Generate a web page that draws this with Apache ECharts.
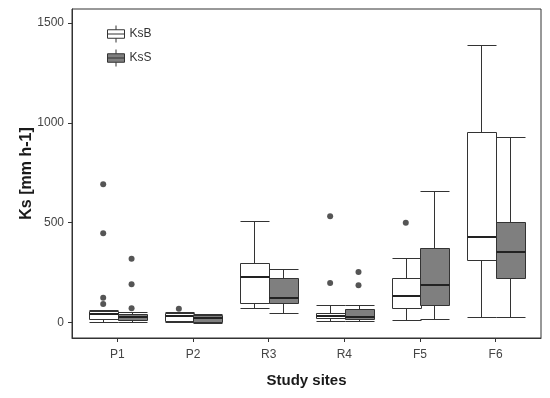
<!DOCTYPE html>
<html>
<head>
<meta charset="utf-8">
<script src="https://cdn.jsdelivr.net/npm/echarts@6/dist/echarts.min.js"></script>
<style>html,body{margin:0;padding:0;background:#fff;}#c{width:550px;height:398px;}</style>
</head>
<body>
<div id="c"></div>
<script>
// ---- data ----
const categories = ['P1', 'P2', 'R3', 'R4', 'F5', 'F6'];
// [low whisker, Q1, median, Q3, high whisker]
const ksB = [
  [3, 17, 42, 58, 62],
  [3, 10, 33, 47, 55],
  [73, 97, 227, 297, 507],
  [7, 25, 33, 47, 90],
  [13, 75, 135, 223, 325],
  [30, 313, 430, 955, 1388]
];
const ksS = [
  [3, 13, 28, 42, 55],
  [0, 5, 22, 38, 45],
  [47, 97, 125, 223, 267],
  [7, 17, 27, 67, 90],
  [20, 90, 190, 373, 658],
  [30, 222, 355, 505, 928]
];
// [category index, value]
const outliersB = [[0, 693], [0, 447], [0, 125], [0, 93], [1, 70], [3, 532], [3, 198], [4, 500]];
const outliersS = [[0, 320], [0, 192], [0, 72], [3, 253], [3, 187]];
const yTicks = [0, 500, 1000, 1500];

// ---- layout / style ----
const BOX_W = 0.375;
const LINE = '#333333';
const FONT = "'Liberation Sans', Arial, sans-serif";

function makeRender(offset, fill) {
  return function (params, api) {
    const xi = api.value(0);
    const low = api.value(1), q1 = api.value(2), med = api.value(3), q3 = api.value(4), high = api.value(5);
    const w = api.size([BOX_W, 0])[0];
    const cx = Math.round(api.coord([xi + offset, 0])[0]) + 0.5;
    const x0 = Math.round(cx - w / 2) + 0.5, x1 = Math.round(cx + w / 2) + 0.5;
    const Y = v => Math.round(api.coord([0, v])[1]) + 0.5;
    const yl = Y(low), y1 = Y(q1), ym = Y(med), y3 = Y(q3), yh = Y(high);
    const st = { stroke: LINE, lineWidth: 1, fill: null };
    return {
      type: 'group',
      children: [
        { type: 'line', shape: { x1: cx, y1: yh, x2: cx, y2: y3 }, style: st },
        { type: 'line', shape: { x1: cx, y1: y1, x2: cx, y2: yl }, style: st },
        { type: 'line', shape: { x1: x0, y1: yh, x2: x1, y2: yh }, style: st },
        { type: 'line', shape: { x1: x0, y1: yl, x2: x1, y2: yl }, style: st },
        { type: 'rect', shape: { x: x0, y: y3, width: x1 - x0, height: y1 - y3 }, style: { fill: fill, stroke: LINE, lineWidth: 1 } },
        { type: 'line', shape: { x1: x0, y1: ym - 0.5, x2: x1, y2: ym - 0.5 }, style: { stroke: '#222', lineWidth: 2 } }
      ]
    };
  };
}

const boxData = arr => arr.map((d, i) => [i].concat(d));
const outData = (arr, off) => arr.map(d => [d[0] + off, d[1]]);

const iconPath = 'path://M8,0L8,4M0,4L16,4L16,12L0,12ZM0,8L16,8M8,12L8,16';

const chart = echarts.init(document.getElementById('c'), null, { renderer: 'canvas' });
chart.setOption({
  animation: false,
  backgroundColor: '#fff',
  grid: { left: 72, right: 9, top: 9, bottom: 60, show: true, borderColor: LINE, borderWidth: 1, backgroundColor: 'transparent' },
  legend: {
    orient: 'vertical', left: 107, top: 25, padding: 0, itemWidth: 17, itemHeight: 17, itemGap: 6,
    selectedMode: false,
    textStyle: { fontSize: 12, color: '#333', fontFamily: FONT },
    data: [
      { name: 'KsB', icon: iconPath, itemStyle: { color: '#ffffff', borderColor: LINE, borderWidth: 1 } },
      { name: 'KsS', icon: iconPath, itemStyle: { color: '#7f7f7f', borderColor: LINE, borderWidth: 1 } }
    ]
  },
  xAxis: {
    type: 'value', min: -0.6, max: 5.6,
    splitLine: { show: false },
    axisLine: { show: true, onZero: false, lineStyle: { color: LINE } },
    axisTick: { show: true, inside: false, length: 4, lineStyle: { color: LINE }, customValues: [0, 1, 2, 3, 4, 5] },
    axisLabel: { customValues: [0, 1, 2, 3, 4, 5], formatter: v => categories[Math.round(v)], color: '#444', fontSize: 12, margin: 11, fontFamily: FONT },
    name: 'Study sites', nameLocation: 'middle', nameGap: 35, nameMoveOverlap: false,
    nameTextStyle: { fontSize: 15, fontWeight: 'bold', color: '#1a1a1a', fontFamily: FONT }
  },
  yAxis: {
    type: 'value', min: -77, max: 1570,
    splitLine: { show: false },
    axisLine: { show: true, onZero: false, lineStyle: { color: LINE } },
    axisTick: { show: true, inside: false, length: 4, lineStyle: { color: LINE }, customValues: yTicks },
    axisLabel: { customValues: yTicks, formatter: v => String(v), color: '#444', fontSize: 12, margin: 8, fontFamily: FONT },
    name: 'Ks [mm h-1]', nameLocation: 'middle', nameGap: 37, nameMoveOverlap: false,
    nameTextStyle: { fontSize: 16, fontWeight: 'bold', color: '#1a1a1a', fontFamily: FONT }
  },
  series: [
    { name: 'KsB', type: 'custom', renderItem: makeRender(-BOX_W / 2, '#ffffff'), data: boxData(ksB),
      encode: { x: 0, y: [1, 2, 3, 4, 5] }, itemStyle: { color: '#ffffff', borderColor: LINE }, z: 2 },
    { name: 'KsS', type: 'custom', renderItem: makeRender(BOX_W / 2, '#7f7f7f'), data: boxData(ksS),
      encode: { x: 0, y: [1, 2, 3, 4, 5] }, itemStyle: { color: '#7f7f7f', borderColor: LINE }, z: 2 },
    { name: 'outB', type: 'scatter', data: outData(outliersB, -BOX_W / 2), symbolSize: 6, itemStyle: { color: '#2b2b2b' }, z: 3 },
    { name: 'outS', type: 'scatter', data: outData(outliersS, BOX_W / 2), symbolSize: 6, itemStyle: { color: '#2b2b2b' }, z: 3 }
  ]
});
</script>
</body>
</html>
